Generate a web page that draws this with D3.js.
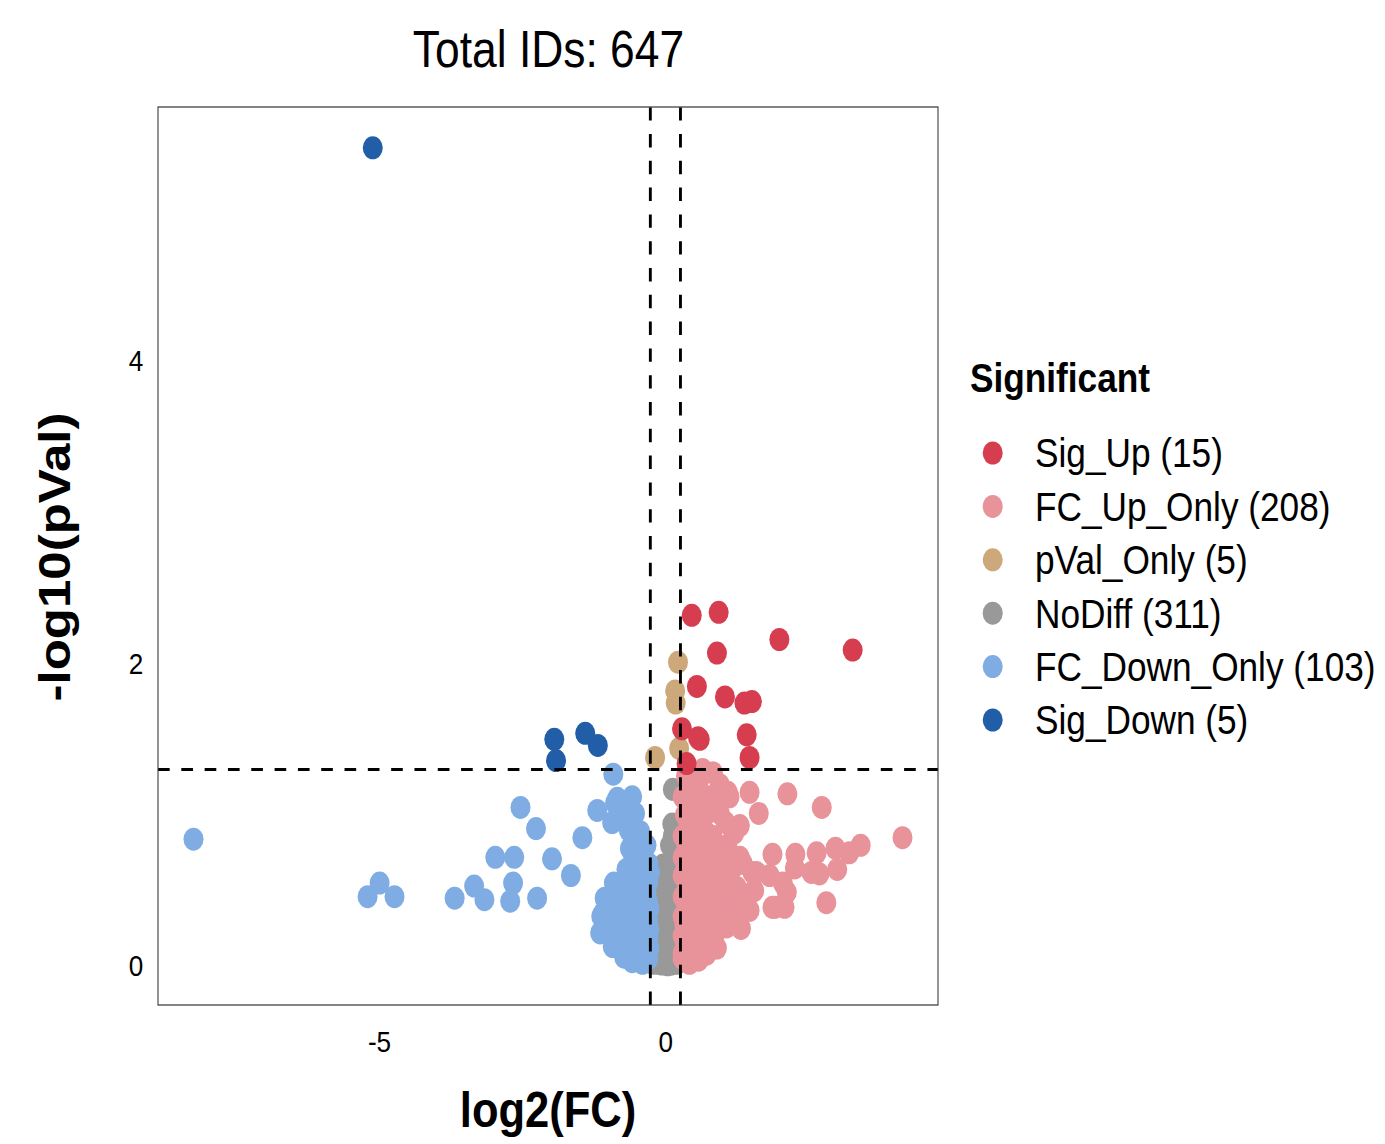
<!DOCTYPE html>
<html><head><meta charset="utf-8">
<script src="https://cdn.jsdelivr.net/npm/d3@7"></script>
<style>body{margin:0;background:#fff}svg{display:block}</style>
</head><body>
<script>
// ---------- data (log2FC, -log10 pVal) ----------
const categories = ["Sig_Up","FC_Up_Only","pVal_Only","NoDiff","FC_Down_Only","Sig_Down"];
const counts = [15, 208, 5, 311, 103, 5];
const colors = ["#D63E50","#E8929A","#CDA87A","#999999","#7FADE3","#225EA8"];
const titleText = "Total IDs: 647";
const xTicks = [-5, 0];
const yTicks = [0, 2, 4];
const fcCut = 0.263;
const pCut = 1.301;

const sigUp = [[0.46,2.32],[0.93,2.34],[1.99,2.16],[3.27,2.09],[0.90,2.07],[0.55,1.85],[1.04,1.78],[1.38,1.74],[1.51,1.75],[0.29,1.57],[0.57,1.51],[1.42,1.53],[1.47,1.38],[0.37,1.34],[0.60,1.50]];
const pValOnly = [[0.22,2.01],[0.17,1.82],[0.18,1.74],[0.24,1.44],[-0.18,1.38]];
const sigDown = [[-5.11,5.41],[-1.94,1.50],[-1.91,1.36],[-1.40,1.54],[-1.18,1.46]];
const fcDown = [[-8.24,0.84],[-5.20,0.46],[-4.99,0.55],[-4.73,0.46],[-3.68,0.45],[-3.34,0.53],[-3.16,0.44],[-2.97,0.72],[-2.64,0.72],[-2.66,0.55],[-2.71,0.43],[-2.53,1.05],[-2.26,0.91],[-1.98,0.71],[-2.24,0.45],[-1.65,0.60],[-1.45,0.85],[-1.19,1.03],
 [-0.91,1.27],[-0.84,1.11],[-0.58,1.12],[-0.93,0.95],[-0.53,1.01],[-0.44,0.89],[-0.62,0.78],[-0.53,0.66],[-0.27,0.62],[-0.91,0.46],[-1.09,0.35],[-1.14,0.22],[-0.65,0.44],[-0.62,0.13],[-0.41,0.09],[-0.32,0.35],[-0.79,0.26],
 [-0.30,0.05],[-0.35,0.10],[-0.42,0.04],[-0.50,0.08],[-0.58,0.03],[-0.65,0.12],[-0.72,0.06],[-0.80,0.15],[-0.30,0.18],[-0.38,0.22],[-0.46,0.16],[-0.55,0.20],[-0.62,0.25],[-0.70,0.20],[-0.88,0.22],[-0.95,0.30],[-1.05,0.27],[-1.12,0.33],[-0.30,0.30],[-0.36,0.34],[-0.44,0.28],[-0.52,0.32],[-0.60,0.37],[-0.68,0.33],[-0.75,0.40],[-0.85,0.38],[-0.98,0.42],[-1.06,0.45],[-0.30,0.42],[-0.40,0.45],[-0.48,0.40],[-0.56,0.48],[-0.64,0.50],[-0.72,0.47],[-0.82,0.50],[-0.90,0.55],[-0.30,0.55],[-0.36,0.60],[-0.45,0.55],[-0.52,0.62],[-0.60,0.58],[-0.68,0.64],[-0.30,0.68],[-0.40,0.72],[-0.48,0.70],[-0.57,0.74],[-0.33,0.80],[-0.45,0.82],[-0.55,0.86],[-0.64,0.90],[-0.70,0.96],[-0.78,1.02],[-0.88,1.08],[-0.28,0.12],[-0.33,0.26],[-0.28,0.38],[-0.33,0.48],[-0.75,0.28],[-0.92,0.13],[-0.85,0.32],[-1.02,0.36],[-0.40,0.02],[-0.58,0.14],[-0.66,0.42],[-0.50,0.24],[-0.28,0.24]];
const noDiff = [[0.13,1.17],[0.12,0.94],[0.13,0.86],[-0.04,0.67],[0.02,0.66],[-0.06,0.60],[0.05,0.58],[-0.02,0.55],[0.08,0.52],[-0.08,0.50],[0.00,0.47],[-0.05,0.44],[0.06,0.42],[-0.10,0.40],[0.02,0.38],[-0.03,0.35],[0.09,0.33],[-0.07,0.31],[0.04,0.29],[-0.12,0.27],[0.00,0.25],[-0.06,0.22],[0.07,0.20],[-0.02,0.18],[-0.10,0.16],[0.05,0.14],[-0.04,0.12],[0.10,0.10],[-0.15,0.09],[0.00,0.08],[-0.08,0.06],[0.06,0.05],[-0.20,0.04],[0.15,0.04],[-0.02,0.03],[0.20,0.02],[-0.12,0.02],[0.04,0.01],[-0.06,0.015],[0.10,0.015],[-0.22,0.02],[0.24,0.03],[-0.15,0.20],[0.15,0.25],[-0.18,0.35],[0.18,0.45],[-0.15,0.50],[0.12,0.60],[-0.20,0.12],[0.20,0.15],[0.10,0.70],[0.08,0.80],[-0.02,0.02],[0.02,0.12],[-0.09,0.26],[0.03,0.48]];
const fcUp = [[2.13,1.14],[2.73,1.05],[1.63,1.01],[4.14,0.85],[1.47,1.15],[1.87,0.74],[2.27,0.74],[2.64,0.75],[2.97,0.78],[3.41,0.80],[3.21,0.75],[2.26,0.65],[2.55,0.62],[2.69,0.61],[3.00,0.64],[1.82,0.60],[2.05,0.55],[2.12,0.49],[1.91,0.39],[2.08,0.39],[2.81,0.42],[1.47,0.37],[1.52,0.62],
 [0.65,1.28],[1.09,1.15],[0.48,1.09],[0.95,1.01],[1.30,0.93],[1.35,0.68],[1.59,0.62],[1.12,0.55],[0.91,0.64],[1.87,0.39],[1.38,0.37],[1.07,0.26],[0.65,0.14],[0.30,0.09],[0.48,0.37],[0.37,0.79],[0.78,0.82],[0.65,1.30],[0.83,1.28],
 [0.30,0.05],[0.35,0.12],[0.42,0.06],[0.50,0.10],[0.58,0.04],[0.65,0.18],[0.72,0.08],[0.80,0.15],[0.30,0.20],[0.38,0.25],[0.46,0.20],[0.55,0.28],[0.62,0.24],[0.70,0.30],[0.78,0.26],[0.88,0.22],[0.95,0.32],[1.02,0.28],[0.30,0.33],[0.36,0.38],[0.44,0.34],[0.52,0.42],[0.60,0.38],[0.68,0.44],[0.76,0.40],[0.85,0.45],[0.92,0.50],[1.00,0.42],[1.10,0.46],[1.20,0.40],[0.30,0.46],[0.38,0.52],[0.46,0.48],[0.54,0.56],[0.62,0.52],[0.70,0.58],[0.80,0.55],[0.88,0.62],[1.00,0.58],[0.30,0.60],[0.36,0.66],[0.44,0.62],[0.52,0.70],[0.60,0.66],[0.68,0.72],[0.76,0.70],[0.85,0.76],[0.30,0.72],[0.38,0.80],[0.46,0.76],[0.55,0.84],[0.64,0.80],[0.72,0.88],[0.82,0.86],[0.30,0.86],[0.40,0.92],[0.50,0.96],[0.60,0.94],[0.70,1.00],[0.34,1.00],[0.44,1.05],[0.56,1.08],[0.30,1.12],[0.40,1.16],[0.52,1.20],[0.60,1.24],[0.36,1.26],[0.42,0.02],[0.55,0.15],[0.75,0.12],[0.90,0.12],[1.15,0.30],[1.25,0.52],[1.18,0.65],[1.30,0.72],[0.98,0.72],[1.08,0.80],[1.20,0.88],[1.05,0.95],[0.90,1.05],[0.75,1.12],[0.95,1.20],[1.12,1.12],[1.40,0.45],[1.55,0.50],[1.32,0.25],[0.85,0.35],[0.33,0.28],[0.48,0.62],[0.66,0.55]];

const seriesByCat = {Sig_Up: sigUp, FC_Up_Only: fcUp, pVal_Only: pValOnly, NoDiff: noDiff, FC_Down_Only: fcDown, Sig_Down: sigDown};
const drawOrder = ["NoDiff","FC_Down_Only","FC_Up_Only","pVal_Only","Sig_Down","Sig_Up"];

// ---------- layout ----------
const W = 1385, H = 1144;
const SX = 0.87; // horizontal squeeze of the whole figure
const P = {l:158, r:938, t:107, b:1005};
const FONT = "'Liberation Sans', Arial, Helvetica, sans-serif";
const R = 11.5;

const svg = d3.select("body").append("svg").attr("width", W).attr("height", H);
const g = svg.append("g").attr("transform", `scale(${SX},1)`);
const vx = v => v / SX;

const x = d3.scaleLinear().domain([-8.86, 4.76]).range([vx(P.l), vx(P.r)]);
const y = d3.scaleLinear().domain([-0.256, 5.68]).range([P.b, P.t]);

// points
drawOrder.forEach(cat => {
  const ci = categories.indexOf(cat);
  g.append("g").selectAll("circle").data(seriesByCat[cat]).join("circle")
    .attr("cx", d => x(d[0])).attr("cy", d => y(d[1])).attr("r", R)
    .attr("fill", colors[ci]);
});

// threshold lines
const dash = "13.4,13.4";
[-fcCut, fcCut].forEach(v => {
  g.append("line").attr("x1", x(v)).attr("x2", x(v)).attr("y1", P.b).attr("y2", P.t)
    .attr("stroke", "#000").attr("stroke-width", 3.3).attr("stroke-dasharray", dash);
});
g.append("line").attr("x1", vx(P.l)).attr("x2", vx(P.r)).attr("y1", y(pCut)).attr("y2", y(pCut))
  .attr("stroke", "#000").attr("stroke-width", 3).attr("stroke-dasharray", dash);

// panel border
g.append("rect").attr("x", vx(P.l)).attr("y", P.t).attr("width", vx(P.r) - vx(P.l)).attr("height", P.b - P.t)
  .attr("fill", "none").attr("stroke", "#333").attr("stroke-width", 1.2);

// axes
const ax = g.append("g").attr("transform", `translate(0,${P.b})`)
  .call(d3.axisBottom(x).tickValues(xTicks).tickSize(0).tickPadding(26).tickFormat(d3.format("d")));
const ay = g.append("g").attr("transform", `translate(${vx(P.l)},0)`)
  .call(d3.axisLeft(y).tickValues(yTicks).tickSize(0).tickPadding(17).tickFormat(d3.format("d")));
[ax, ay].forEach(a => {
  a.select(".domain").remove();
  a.selectAll("text").attr("font-family", FONT).attr("font-size", 30).attr("fill", "#000");
});
ax.selectAll("text").text(d => d < 0 ? "-" + Math.abs(d) : d);

// title
g.append("text").attr("x", vx(548.5)).attr("y", 67).attr("text-anchor", "middle")
  .attr("font-family", FONT).attr("font-size", 51).text(titleText);

// axis titles
g.append("text").attr("x", vx(548)).attr("y", 1127).attr("text-anchor", "middle")
  .attr("font-family", FONT).attr("font-size", 50).attr("font-weight", "bold").text("log2(FC)");
g.append("text").attr("transform", `translate(${vx(70)},557) rotate(-90)`).attr("text-anchor", "middle")
  .attr("font-family", FONT).attr("font-size", 51).attr("font-weight", "bold").text("-log10(pVal)");

// legend
const lg = g.append("g");
lg.append("text").attr("x", vx(970)).attr("y", 392).attr("font-family", FONT)
  .attr("font-size", 40.5).attr("font-weight", "bold").text("Significant");
categories.forEach((c, i) => {
  const cy = 453 + i * 53.4;
  lg.append("circle").attr("cx", vx(992.7)).attr("cy", cy).attr("r", R).attr("fill", colors[i]);
  lg.append("text").attr("x", vx(1035)).attr("y", cy + 14.5).attr("font-family", FONT)
    .attr("font-size", 40.5).text(`${c} (${counts[i]})`);
});
</script>
</body></html>
